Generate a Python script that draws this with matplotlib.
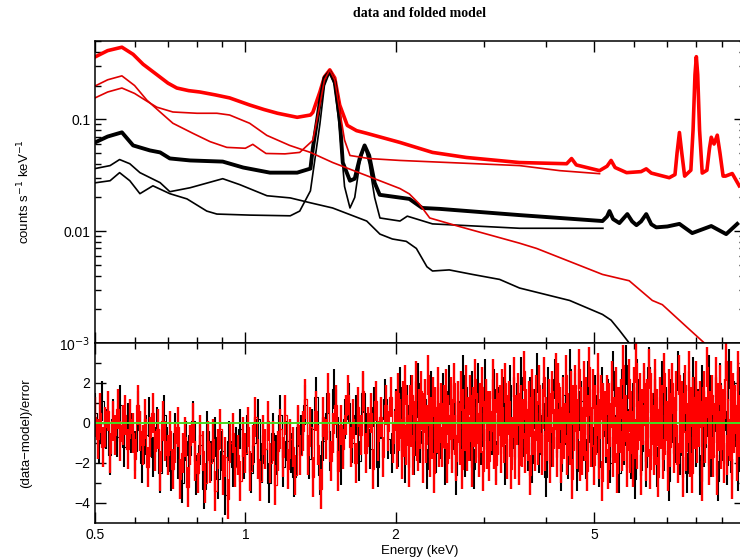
import numpy as np
import matplotlib.pyplot as plt
from matplotlib.ticker import FixedLocator, NullFormatter

# ---- spectra (energy keV, counts/s/keV) ----
red_data_e = [0.5, 0.53, 0.566, 0.596, 0.624, 0.665, 0.7, 0.729, 0.77, 0.811, 0.87, 0.93, 1.02, 1.09, 1.16, 1.27, 1.35,
              1.365, 1.41, 1.44, 1.476, 1.51, 1.545, 1.6, 1.67, 1.75, 2.04, 2.37, 2.77, 3.54,
              4.4, 4.5, 4.6, 5.12, 5.3, 5.4, 5.5, 5.8, 6.2, 6.35, 6.5, 7.06, 7.25, 7.32,
              7.4, 7.48, 7.58, 7.8, 7.88, 7.95, 8.0, 8.05, 8.12, 8.22, 8.4, 8.5, 8.57,
              8.68, 8.81, 8.92, 9.05, 9.15, 9.44, 9.75]
red_data_f = [0.36, 0.41, 0.44, 0.38, 0.31, 0.25, 0.21, 0.19, 0.18, 0.175, 0.165, 0.155, 0.134, 0.122, 0.113, 0.104, 0.109,
              0.115, 0.175, 0.239, 0.276, 0.234, 0.134, 0.088, 0.079, 0.0748, 0.062, 0.0505, 0.0455, 0.041,
              0.040, 0.0445, 0.039, 0.0347, 0.038, 0.0428, 0.037, 0.0333, 0.034, 0.036, 0.033, 0.030, 0.032, 0.05,
              0.076, 0.05, 0.031, 0.035, 0.08, 0.25, 0.362, 0.25, 0.08, 0.033, 0.035, 0.055, 0.069,
              0.06, 0.072, 0.05, 0.031, 0.031, 0.0327, 0.0254]

red_a_e = [0.5, 0.53, 0.566, 0.6, 0.635, 0.665, 0.716, 0.8, 0.877, 0.93, 1.02, 1.104, 1.227, 1.35, 1.496, 1.75,
           2.04, 2.13, 2.23, 2.34, 2.68, 3.54, 3.83, 5.19, 5.87, 6.53, 6.84, 7.64, 8.3]
red_a_f = [0.155, 0.175, 0.19, 0.17, 0.145, 0.128, 0.116, 0.113, 0.113, 0.109, 0.092, 0.0717, 0.0583, 0.0505, 0.041, 0.0313,
           0.024, 0.0215, 0.0175, 0.0131, 0.011, 0.0078, 0.0070, 0.0041, 0.0036, 0.0024, 0.0022, 0.0014, 0.001]

red_b_e = [0.5, 0.53, 0.566, 0.6, 0.635, 0.675, 0.716, 0.785, 0.85, 0.918, 1.0, 1.035, 1.07, 1.10, 1.2, 1.285,
           1.365, 1.41, 1.44, 1.476, 1.51, 1.545, 1.58, 1.62, 1.77, 2.04, 3.54, 4.26, 5.12]
red_b_f = [0.198, 0.225, 0.244, 0.2, 0.148, 0.116, 0.092, 0.0748, 0.063, 0.056, 0.055, 0.0596, 0.0537, 0.0494, 0.049, 0.0505,
           0.0647, 0.134, 0.224, 0.276, 0.224, 0.12, 0.065, 0.0474, 0.0445, 0.0428, 0.0385, 0.0347, 0.0326]

blk_data_e = [0.5, 0.53, 0.566, 0.596, 0.644, 0.675, 0.706, 0.775, 0.901, 0.99, 1.12, 1.27, 1.35,
              1.365, 1.41, 1.44, 1.476, 1.51, 1.545, 1.567, 1.62, 1.656, 1.694, 1.733, 1.77,
              1.815, 1.858, 2.13, 2.26, 2.45, 3.54, 5.19, 5.3, 5.36, 5.45, 5.61, 5.82, 5.95, 6.07, 6.2, 6.35, 6.5, 6.65,
              7.0, 7.4, 7.85, 8.57, 9.18, 9.66]
blk_data_f = [0.062, 0.07, 0.0763, 0.0583, 0.0526, 0.0505, 0.0446, 0.0428, 0.0418, 0.037, 0.0333, 0.0333, 0.0362,
              0.0548, 0.142, 0.234, 0.265, 0.215, 0.102, 0.041, 0.0282, 0.0294, 0.0445, 0.0583, 0.0474,
              0.027, 0.0211, 0.0194, 0.0161, 0.0158, 0.0139, 0.0123, 0.0135, 0.0151, 0.0128, 0.0118, 0.0142, 0.0122, 0.0113, 0.0122, 0.0142, 0.0115, 0.0108,
              0.011, 0.0116, 0.0096, 0.0111, 0.0094, 0.0116]

blk_c_e = [0.5, 0.536, 0.56, 0.587, 0.615, 0.675, 0.706, 0.775, 0.901, 0.975, 1.105, 1.23,
           1.35, 1.495, 1.75, 1.86, 1.97, 2.1, 2.2, 2.31, 2.37, 2.56, 2.85, 3.23, 3.54,
           4.46, 5.19, 5.4, 5.61, 5.87]
blk_c_f = [0.0362, 0.0385, 0.0436, 0.040, 0.0333, 0.0271, 0.0225, 0.0244, 0.0294, 0.026, 0.0207, 0.0198,
           0.0179, 0.0161, 0.0123, 0.0094, 0.0085, 0.0081, 0.0070, 0.0048, 0.0044, 0.0045, 0.0041, 0.0037, 0.0031,
           0.0024, 0.0018, 0.0016, 0.0013, 0.001]

blk_d_e = [0.5, 0.536, 0.56, 0.587, 0.615, 0.653, 0.706, 0.764, 0.837, 0.877, 1.02, 1.23,
           1.285, 1.35, 1.41, 1.44, 1.476, 1.51, 1.545, 1.58, 1.62, 1.656, 1.694, 1.733,
           1.77, 1.815, 1.86, 2.04, 2.11, 2.37, 3.54, 5.2]
blk_d_f = [0.027, 0.0282, 0.0333, 0.0282, 0.0216, 0.0254, 0.0216, 0.0194, 0.0151, 0.0142, 0.0139, 0.0137,
           0.0151, 0.0229, 0.09, 0.2, 0.265, 0.2, 0.08, 0.025, 0.0161, 0.02, 0.04, 0.058,
           0.04, 0.02, 0.0131, 0.0123, 0.0136, 0.0116, 0.0106, 0.0106]

# ---- residuals (data-model)/error, low to high energy ----
# 0.5-2 keV channels
res_red_lo = np.array("""
0.3 -0.8 0.5 -1.2 -0.2 0.6 -1.5 0.1 -0.6 0.7 -0.9 -0.1 0.4 -1.3 0.2 -0.5
-1.8 0.9 -0.4 -1.1 0.2 -2.2 -0.7 0.5 -1.4 -0.3 -2.4 0.1 -0.9
-1.6 -0.4 -2.3 -1.0 -0.2 -2.8 -1.5 -0.7 -3.2 -1.1 0.0 -1.9 -2.5 -0.6 -1.4 -3.0 -0.9
-2.0 -0.8 -3.4 -1.3 -0.3 -2.6 -1.7 -3.8 -1.0 -0.5 -2.2 -1.6 -2.9 -0.7
-1.5 -0.2 -2.4 -1.1 0.3 -1.8 -2.9 -0.6 -1.3 0.1 -2.0 -0.9 -3.1 -1.4 -0.3 -1.7 0.4 -2.3 -0.8 -1.2 -2.6 -0.1 -1.6
-0.4 1.2 -1.6 -0.2 -2.7 0.6 -1.1 -3.3 0.3 -0.8 1.5 -1.9 -0.5 0.9 -2.4 -0.1 -1.3 0.4
1.4 -1.2 0.2 -2.0 0.8 -0.6 1.6 -1.5 -0.2 0.5 -2.3 1.1 -0.9 0.3 -1.7 0.9 -0.4 1.3 -1.0
""".split(), dtype=float)
# 2-10 keV channels (finer binning)
res_red_hi = np.array("""
0.6 -1.3 1.5 -0.4 0.2 -1.8 1.1 -0.7 1.9 -1.1 0.4 -2.2 0.9 -0.2 1.4 -1.6 0.1 2.1 -0.9 -1.4
0.7 -0.3 1.6 -2.0 0.5 1.2 -1.0 -0.1 2.4 -1.7 0.3 -0.8 1.3 -2.5 0.8 -0.5 1.8 -1.2 0.0 1.0
-1.2 0.9 -0.3 1.7 -2.0 0.4 -0.8 1.3 -1.5 0.2 2.0 -0.6 -1.9 1.1 0.0 -1.1 1.6 -2.3 0.7 -0.4
1.9 -1.4 0.3 -0.9 1.4 -2.2 0.8 -0.2 2.2 -1.0 0.5 -1.7 1.0 -0.5 1.8 -2.4 0.1 1.2 -1.3 0.6
-1.9 0.6 -0.4 2.2 -1.3 0.2 -2.1 1.5 -0.6 0.9 -1.5 1.7 -0.2 -1.0 2.0 -1.8 0.4 1.1 -0.7 -2.3
-0.7 2.3 -1.8 0.4 -0.1 1.5 -2.1 0.9 -1.2 0.2 2.6 -1.5 0.7 -0.9 1.1 -2.6 0.3 1.7 -0.6 -1.4
1.4 0.1 -1.1 1.9 -0.5 -1.6 0.7 2.3 -1.4 0.3 -0.9 1.2 -2.0 0.5 1.6 -1.2 -0.3 2.5 -1.7
2.0 -0.3 0.8 -2.0 1.3 -0.8 0.0 2.4 -1.6 0.5 -1.1 1.6 -2.8 0.9 -0.4 1.9 -1.3 0.2 2.7 -1.9
0.8 -1.6 2.1 -0.9 1.3 -2.4 0.4 2.8 -1.2 -0.2 1.7 -2.1 0.9 -0.6 2.5 -1.8 0.2 1.4 -2.9 1.0
0.6 -0.7 1.4 -2.3 1.0 -0.2 2.1 -1.7 0.3 -1.0 1.8 -2.5 0.8 -0.5 1.2 -1.4 2.9 -0.9 0.4 -2.2
-0.4 2.2 -1.5 0.6 -2.2 1.8 -0.8 3.0 -1.3 0.1 1.5 -2.6 0.7 -0.1 2.0 -1.9 1.2 -0.7 2.7 -2.3
1.5 -0.1 -1.6 2.2 -1.1 0.7 -2.7 1.3 -0.3 0.9 -1.8 2.5 -0.6 0.1 -2.4 1.7 -1.2 0.5 2.0 -1.5
0.3 1.6 -1.1 -2.0 2.4 -0.5 1.1 -2.7 0.5 1.9 -1.4 0.0 2.6 -1.7 0.8 -2.5 1.3 -0.3 2.1 -1.0 0.6
-0.2 1.1 -2.9 0.8 1.6 -1.0 0.3 2.8 -2.1 0.6 -0.8 1.4 -1.7 0.0 2.3 -2.6 1.0 -0.4 1.9 -1.3
0.7 -2.0 1.2 3.1 -1.6 0.2 -0.9 2.1 -2.8 1.5 -0.5 0.9 -1.9 2.6 -0.7 0.4 -2.3 1.8 -1.1 0.3
""".split(), dtype=float)

res_blk_lo = np.array("""
0.5 -1.0 1.1 -0.3 -1.6 0.2 -0.7 0.9 -1.2 0.0 -0.5
-1.4 0.6 -2.0 -0.6 0.3 -1.7 -0.2 -2.5 0.4
-1.2 -2.4 -0.5 -1.8 -3.0 -0.9 -1.6 0.1 -2.6 -1.1 -3.3 -0.4
-1.9 -0.7 -2.8 -1.4 -3.6 -0.9 -2.2 -1.2 -0.3
-1.8 -0.6 -2.5 -1.0 0.2 -2.0 -1.3 -3.0 -0.5 -1.6 0.4 -2.2 -0.9 -1.5 -2.7 -0.2
-0.6 0.9 -1.8 -0.3 1.3 -2.6 -0.9 0.5 -1.4 1.7 -0.7 -2.1 0.2
1.0 -1.0 0.4 -1.9 1.5 -0.5 -1.3 0.8 -2.2 0.2 1.2 -0.8 -1.5
""".split(), dtype=float)
res_blk_hi = np.array("""
0.7 -1.2 1.8 -0.5 -2.0 0.9 -0.2 1.4 -1.6 0.3 2.0 -1.0 -0.4 1.2 -2.3 0.6 1.6 -0.8 -1.5 0.1
-0.8 1.5 -2.1 0.6 1.9 -1.3 0.2 -2.6 1.1 -0.4 2.4 -1.7 0.8 -0.9 1.6 -2.3 0.3 2.0 -1.1 -0.2
2.2 -1.3 0.5 -0.6 1.7 -1.9 0.8 -0.1 1.3 -2.1 0.4 1.9 -1.1 -0.3 1.0 -1.7 2.3 -0.7 0.2 -1.4
1.3 -2.0 0.7 2.5 -1.5 -0.6 1.0 -2.7 1.8 0.1 -1.2 2.2 -0.5 0.9 -2.4 1.4 -0.1 -1.8 2.7 -0.9
1.5 -2.4 0.6 1.1 -0.9 -1.8 2.1 0.0 -1.2 1.4 -0.5 -2.2 1.8 0.3 -1.0
1.2 -2.0 2.6 -0.6 0.5 -2.5 1.7 -1.1 2.9 -0.3 -1.8 1.0 -2.8 2.2 0.1 -1.4 1.6 -2.2 2.8 -0.8
0.5 1.7 -2.2 -0.3 2.1 -1.4 0.8 -2.9 1.2 0.0 -1.0 2.6 -1.6 0.4 1.5 -2.5 0.9 -0.7 2.3 -1.2
0.7 -2.6 1.9 -1.2 0.3 2.4 -1.7 -0.4 1.4 -2.9 2.0 -0.9 0.6 -2.1 2.7 -1.5 1.1 -0.2 -2.4 1.8 -1.0 2.3
""".split(), dtype=float)

# channel energies, evenly spaced in log E within each band
e_red = np.concatenate([np.geomspace(0.5, 2, len(res_red_lo), endpoint=False),
                        np.geomspace(2, 10, len(res_red_hi))])
e_blk = np.concatenate([np.geomspace(0.5, 2, len(res_blk_lo), endpoint=False),
                        np.geomspace(2, 10, len(res_blk_hi))])
res_red = np.concatenate([res_red_lo, res_red_hi])
res_blk = np.concatenate([res_blk_lo, res_blk_hi])

plt.rcParams['font.family'] = ['Liberation Sans', 'DejaVu Sans']

fig = plt.figure(figsize=(7.4, 5.6), dpi=100)
ax1 = fig.add_axes([0.1284, 0.3875, 0.878, 0.5393])
ax2 = fig.add_axes([0.1284, 0.0661, 0.878, 0.3214], sharex=ax1)

RED = '#ff0000'
ax1.plot(red_data_e, red_data_f, color=RED, lw=2.6, solid_joinstyle='round')
ax1.plot(blk_data_e, blk_data_f, color='black', lw=2.8, solid_joinstyle='round')
ax1.plot(blk_c_e, blk_c_f, color='black', lw=1.2)
ax1.plot(blk_d_e, blk_d_f, color='black', lw=1.2)
ax1.plot(red_a_e, red_a_f, color='#e00000', lw=1.2)
ax1.plot(red_b_e, red_b_f, color='#e00000', lw=1.2)

ax1.set_xscale('log')
ax1.set_yscale('log')
ax1.set_xlim(0.5, 10)
ax1.set_ylim(1e-3, 0.5)
ax1.set_yticks([1e-3, 0.01, 0.1])
ax1.set_yticklabels(['10$^{-3}$', '0.01', '0.1'])
ax1.set_ylabel('counts s$^{-1}$ keV$^{-1}$', fontsize=9.5)
ax1.yaxis.set_label_coords(-0.097, 0.5)
ax1.set_title('data and folded model', fontsize=10, fontweight='bold',
              family='Liberation Serif', pad=17)

# residual error bars (+/-1 sigma) with bin steps between channels
ax2.vlines(e_blk, res_blk - 1, res_blk + 1, color='black', lw=1.5)
ax2.step(e_blk, res_blk, where='mid', color='black', lw=0.8)
ax2.vlines(e_red, res_red - 1, res_red + 1, color=RED, lw=1.7)
ax2.step(e_red, res_red, where='mid', color=RED, lw=0.9)
ax2.axhline(0, color='#44dd22', lw=1.4)
ax2.set_ylim(-5, 4)
ax2.set_yticks([-4, -2, 0, 2])
ax2.yaxis.set_minor_locator(FixedLocator([-3, -1, 1, 3]))
ax2.set_ylabel('(data\u2212model)/error', fontsize=9.5)
ax2.yaxis.set_label_coords(-0.097, 0.5)
ax2.set_xlabel('Energy (keV)', fontsize=9.5, labelpad=2)

ax2.xaxis.set_major_locator(FixedLocator([0.5, 1, 2, 5, 10]))
ax2.xaxis.set_minor_locator(FixedLocator([0.6, 0.7, 0.8, 0.9, 3, 4, 6, 7, 8, 9]))
ax2.set_xticklabels(['0.5', '1', '2', '5', ''])
ax2.xaxis.set_minor_formatter(NullFormatter())
plt.setp(ax1.get_xticklabels(), visible=False)

for ax in (ax1, ax2):
    ax.tick_params(which='both', direction='in', top=True, right=True, labelsize=10, width=1)
    ax.tick_params(which='major', length=8)
    ax.tick_params(which='minor', length=4)
    for s in ax.spines.values():
        s.set_linewidth(1.1)

fig.savefig('out.png', dpi=100)
